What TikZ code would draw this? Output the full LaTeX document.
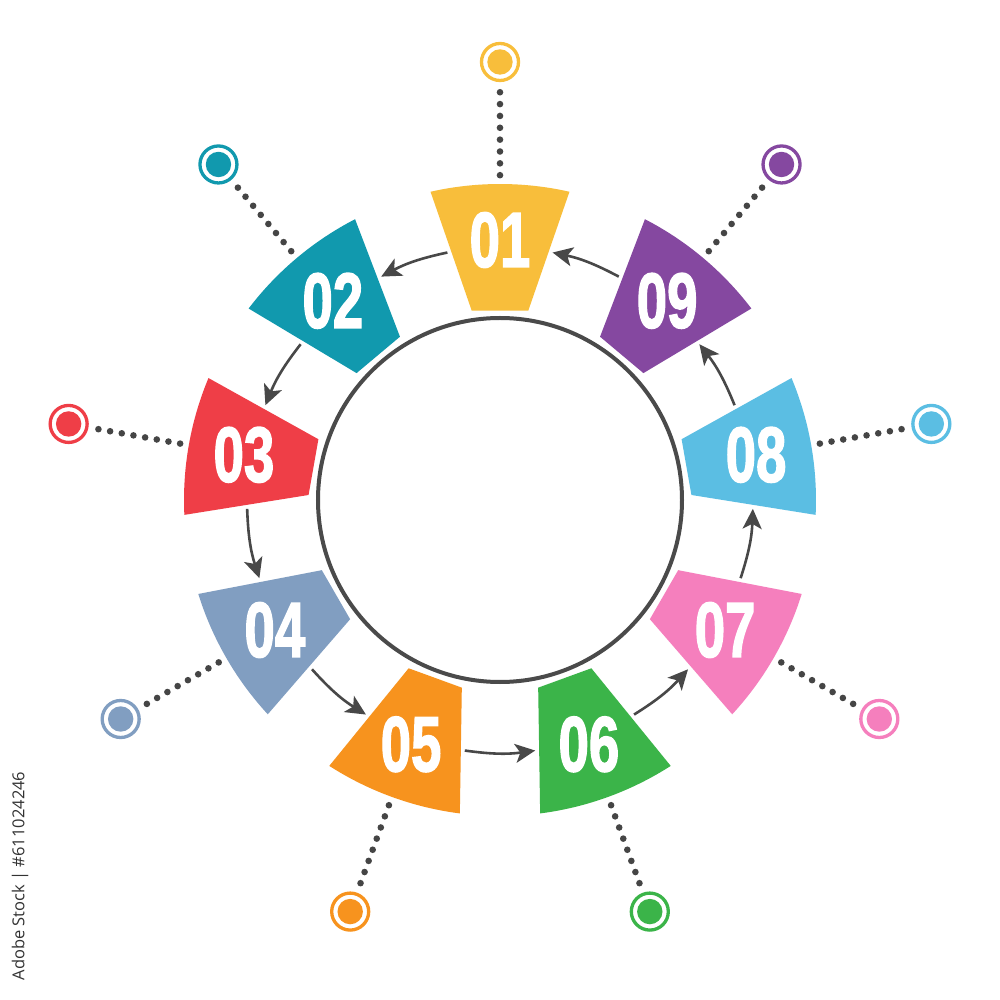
\documentclass[tikz,border=0pt]{standalone}
\usepackage{fontspec}
\setmainfont{Liberation Sans}
\newfontfamily\numfont[BoldFeatures={FakeBold=2.2}]{Liberation Sans}
\newfontfamily\sidefont{Open Sans}
\usetikzlibrary{arrows.meta}
\definecolor{c1}{HTML}{F8BE3B}
\definecolor{c2}{HTML}{1199AE}
\definecolor{c3}{HTML}{EF3E47}
\definecolor{c4}{HTML}{819EC1}
\definecolor{c5}{HTML}{F7931E}
\definecolor{c6}{HTML}{3BB449}
\definecolor{c7}{HTML}{F57FBD}
\definecolor{c8}{HTML}{5BBEE3}
\definecolor{c9}{HTML}{8548A0}
\definecolor{ringgray}{HTML}{4A4A4A}
\definecolor{arrowgray}{HTML}{484848}
\definecolor{dotgray}{HTML}{454545}
\definecolor{sidegray}{HTML}{333333}
\begin{document}
\begin{tikzpicture}[x=1pt,y=1pt,
  wedgetext/.style={text=white, inner sep=0pt, font=\numfont\bfseries\fontsize{78}{78}\selectfont},
  pinring/.style={circle, draw=#1, line width=3.3pt, minimum size=37pt, inner sep=0pt, outer sep=11.5pt},
  dotline/.style={draw=dotgray, line width=6.6pt, line cap=round, dash pattern=on 0pt off 11.85pt},
  flow/.style={draw=arrowgray, line width=2.6pt, -{Stealth[length=20pt,width=19pt,inset=5pt]}},
]
\useasboundingbox (-500,-500) rectangle (500,500);
\fill[white] (-500,-500) rectangle (500,500);
\node[circle, draw=ringgray, line width=4pt, minimum size=364pt, inner sep=0pt] (hub) at (0,0) {};
\foreach \i/\a in {1/90,2/130,3/170,4/210,5/250,6/290,7/330,8/370,9/410} {
  \fill[c\i] (\a-12.7:316) arc[start angle=\a-12.7, end angle=\a+12.7, radius=316] -- (\a+8.5:191.5) -- (\a-8.5:191.5) -- cycle;
  \node[wedgetext] (w\i) at (\a:260) {\scalebox{0.7}[1]{0\i}};
  \node[pinring=c\i] (p\i) at (\a:438) {};
  \fill[c\i] (p\i.center) circle (12.7);
  \coordinate (d\i) at (\a:324.8);
  \draw[dotline] (d\i) -- (p\i);
  \coordinate (s\i) at (\a+12:253);
  \coordinate (e\i) at (\a+28:253);
  \draw[flow] (s\i) to[bend right=8] (e\i);
}
\node[rotate=90, inner sep=0pt, text=sidegray, font=\sidefont\fontsize{16.5}{16.5}\selectfont] (wm) at (-480,-376) {Adobe Stock | \#611024246};
\end{tikzpicture}
\end{document}
